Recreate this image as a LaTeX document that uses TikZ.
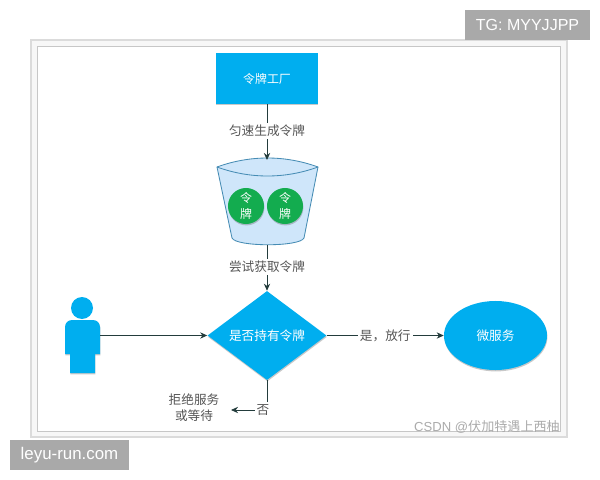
\documentclass[tikz,border=0pt]{standalone}
\usepackage{fontspec}
\setmainfont{Liberation Sans}
\newfontfamily\cjk{Noto Sans CJK SC}
\usetikzlibrary{shapes.geometric,shadows,arrows.meta}

\definecolor{azul}{RGB}{0,174,239}
\definecolor{verde}{RGB}{19,172,79}
\definecolor{balde}{RGB}{207,230,250}
\definecolor{baldeborda}{RGB}{70,140,180}
\definecolor{cinza}{RGB}{169,169,169}
\definecolor{linha}{RGB}{35,60,60}
\definecolor{rotulo}{RGB}{85,85,85}

\tikzset{
    sombra/.style={drop shadow={shadow xshift=0.3pt, shadow yshift=-1pt, opacity=0.3, fill=black!70}},
    bloco/.style={fill=azul, text=white, font=\cjk\fontsize{9}{11}\selectfont, inner sep=0pt, sombra},
    ficha/.style={circle, fill=verde, text=white, minimum size=0.9cm, inner sep=0pt, align=center, font=\cjk\fontsize{8.5}{12}\selectfont, sombra},
    rotulo/.style={fill=white, text=rotulo, inner sep=1.5pt, font=\cjk\fontsize{9}{10}\selectfont},
    liga/.style={-{Stealth[length=5pt,width=4.5pt]}, linha, line width=0.6pt},
    marca/.style={fill=cinza, text=white, inner sep=0pt},
}

\begin{document}
\begin{tikzpicture}[x=0.025cm, y=-0.025cm]
    \useasboundingbox (0,0) rectangle (600,480);

    % Moldura
    \draw[black!14, line width=0.9pt, fill=black!3] (31,40) rectangle (567,437);
    \draw[black!22, line width=0.4pt, fill=white] (37,46) rectangle (560,431);

    % Fabrica
    \node[bloco, rectangle, minimum width=2.55cm, minimum height=1.275cm, font=\cjk\fontsize{8.5}{11}\selectfont] (fabrica) at (267,78.5) {令牌工厂};

    % Balde
    \coordinate (baldeTopo) at (267,160);
    \coordinate (baldeBase) at (267,245);
    \draw[baldeborda, line width=0.6pt, fill=balde] (217,167) .. controls (250,155) and (285,155) .. (318,167)
        -- (304,238) .. controls (300,247) and (236,247) .. (232,238) -- cycle;
    \draw[baldeborda, line width=0.6pt] (217,167) .. controls (250,179) and (285,179) .. (318,167);
    \node[ficha] (ficha1) at (246,206) {令\\牌};
    \node[ficha] (ficha2) at (285,206) {令\\牌};

    % Decisao
    \node[bloco, diamond, aspect=1.337, minimum width=2.975cm, minimum height=2.225cm] (decisao) at (267,335.5) {是否持有令牌};

    % Pessoa
    \fill[azul, sombra] (70,354) -- (65,354) -- (65,327) arc (180:270:7) -- (93,320) arc (-90:0:7) -- (100,354) -- (95,354) -- (95,373) -- (70,373) -- cycle;
    \fill[azul] (82,308) circle (11);
    \coordinate (pessoa) at (100,335.5);

    % Servico
    \node[bloco, ellipse, minimum width=2.575cm, minimum height=1.725cm] (servico) at (495.5,335.5) {微服务};

    % Recusa
    \node[text=rotulo, align=center, inner sep=0pt, font=\cjk\fontsize{9}{11.4}\selectfont] (recusa) at (194,408) {拒绝服务\\或等待};
    \coordinate (canto) at (267,410);
    \coordinate (recusaFim) at (231,410);

    % Ligacoes
    \draw[liga] (fabrica) -- (baldeTopo) node[rotulo, pos=0.48] (rot1) {匀速生成令牌};
    \draw[liga] (baldeBase) -- (decisao.north) node[rotulo, pos=0.48] (rot2) {尝试获取令牌};
    \draw[liga] (pessoa) -- (decisao.west);
    \draw[liga] (decisao.east) -- (servico.west) node[rotulo, pos=0.5] (rot3) {是，放行};
    \draw[liga] (decisao.south) -- (canto) -- (recusaFim) node[rotulo, pos=0.11] (rot4) {否};

    % Marcas
    \node[marca, minimum width=3.125cm, minimum height=0.75cm, font=\fontsize{11.4}{13}\selectfont] (tg) at (527.5,25) {TG: MYYJJPP};
    \node[marca, minimum width=2.975cm, minimum height=0.75cm, font=\fontsize{12}{14}\selectfont] (site) at (69.5,455) {leyu-run.com};
    \node[text=black!33, inner sep=0pt, font=\fontsize{9.3}{12}\selectfont] (csdn) at (487,427) {CSDN @{\cjk 伏加特遇上西柚}};
\end{tikzpicture}
\end{document}
